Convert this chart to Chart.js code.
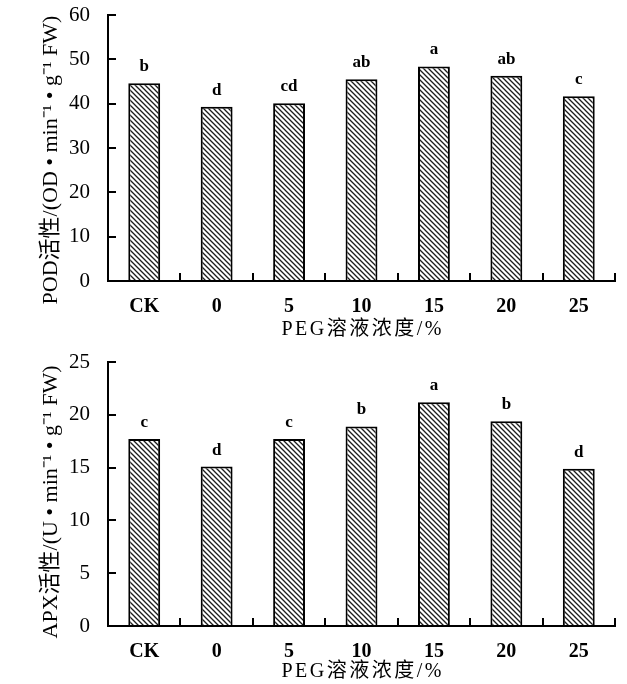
<!DOCTYPE html>
<html>
<head>
<meta charset="utf-8">
<script src="https://cdn.jsdelivr.net/npm/chart.js@4/dist/chart.umd.min.js"></script>
<style>
  html, body { margin: 0; padding: 0; background: #fff; }
  .panel { position: relative; width: 627px; height: 342px; }
</style>
</head>
<body>
<div class="panel"><canvas id="podChart"></canvas></div>
<div class="panel"><canvas id="apxChart"></canvas></div>
<script>
// PEG concentration groups
const categories = ['CK', '0', '5', '10', '15', '20', '25'];

// POD activity and significance letters
const podValues = [44.6, 39.3, 40.1, 45.5, 48.4, 46.3, 41.7];
const podLetters = ['b', 'd', 'cd', 'ab', 'a', 'ab', 'c'];
const podAxis = { max: 60, step: 10 };

// APX activity and significance letters
const apxValues = [17.7, 15.1, 17.7, 18.9, 21.2, 19.4, 14.9];
const apxLetters = ['c', 'd', 'c', 'b', 'a', 'b', 'd'];
const apxAxis = { max: 25, step: 5 };

const xTitle = 'PEG溶液浓度/%';
const podTitle = 'POD活性/(OD • min⁻¹ • g⁻¹ FW)';
const apxTitle = 'APX活性/(U • min⁻¹ • g⁻¹ FW)';

const SERIF = '"Liberation Serif", "Times New Roman", "Noto Sans CJK SC", serif';

// Diagonal hatch fill for the bars
function makeHatch() {
  const s = 5;
  const tile = document.createElement('canvas');
  tile.width = s; tile.height = s;
  const g = tile.getContext('2d');
  g.fillStyle = '#ffffff';
  g.fillRect(0, 0, s, s);
  g.strokeStyle = '#1c1c1c';
  g.lineWidth = 1.3;
  g.beginPath();
  g.moveTo(-1, -1); g.lineTo(s + 1, s + 1);
  g.moveTo(-1, s - 1); g.lineTo(1, s + 1);
  g.moveTo(s - 1, -1); g.lineTo(s + 1, 1);
  g.stroke();
  return document.createElement('canvas').getContext('2d').createPattern(tile, 'repeat');
}
const hatch = makeHatch();

// Letters written above each bar
const sigLetters = {
  id: 'sigLetters',
  afterDatasetsDraw(chart, args, opts) {
    const meta = chart.getDatasetMeta(0);
    const ctx = chart.ctx;
    ctx.save();
    ctx.font = 'bold 17px ' + SERIF;
    ctx.fillStyle = '#000';
    ctx.textAlign = 'center';
    ctx.textBaseline = 'alphabetic';
    meta.data.forEach((bar, i) => {
      ctx.fillText(opts.letters[i], bar.x, bar.y - 12);
    });
    ctx.restore();
  }
};

// Axis-title tweaks: character spacing on the x title, vertical offset on the y title
const titleTweaks = {
  id: 'titleTweaks',
  afterLayout(chart, args, opts) {
    const x = chart.scales.x, y = chart.scales.y;
    if (x._tweaked) return;
    const base = Object.getPrototypeOf(x).drawTitle;
    x.drawTitle = function () {
      const ctx = this.ctx;
      ctx.save();
      ctx.letterSpacing = opts.spacing + 'px';
      ctx.translate(opts.spacing / 2, 0);
      base.call(this);
      ctx.restore();
    };
    y.drawTitle = function () {
      const ctx = this.ctx;
      ctx.save();
      ctx.translate(0, opts.yShift);
      base.call(this);
      ctx.restore();
    };
    x._tweaked = true;
  }
};

function buildChart(id, values, letters, axis, yTitle, topPad, xHeight, yShift) {
  return new Chart(document.getElementById(id), {
    type: 'bar',
    data: {
      labels: categories,
      datasets: [{
        data: values,
        backgroundColor: hatch,
        borderColor: '#000',
        borderWidth: 2,
        borderSkipped: 'bottom',
        categoryPercentage: 1,
        barPercentage: 0.44
      }]
    },
    options: {
      responsive: true,
      maintainAspectRatio: false,
      devicePixelRatio: 1,
      animation: false,
      layout: { padding: { top: topPad, right: 12, bottom: 0, left: 0 } },
      plugins: {
        legend: { display: false },
        tooltip: { enabled: false },
        sigLetters: { letters: letters },
        titleTweaks: { spacing: 2.5, yShift: yShift }
      },
      scales: {
        x: {
          grid: {
            offset: true,
            drawOnChartArea: false,
            tickLength: -8,
            color: '#000',
            lineWidth: 2
          },
          border: { display: true, color: '#000', width: 2 },
          ticks: {
            color: '#000',
            padding: 22,
            font: { family: SERIF, size: 20, weight: 'bold' }
          },
          title: {
            display: true,
            text: xTitle,
            color: '#000',
            padding: { top: 0, bottom: 0.6 },
            font: { family: SERIF, size: 20, weight: 'normal' }
          },
          afterFit(scale) { scale.height = xHeight; }
        },
        y: {
          min: 0,
          max: axis.max,
          grid: {
            drawOnChartArea: false,
            tickLength: -8,
            color: '#000',
            lineWidth: 2
          },
          border: { display: true, color: '#000', width: 2 },
          ticks: {
            stepSize: axis.step,
            color: '#000',
            padding: 26,
            font: { family: SERIF, size: 21, weight: 'normal' }
          },
          title: {
            display: true,
            text: yTitle,
            color: '#000',
            padding: { top: 38, bottom: 0 },
            font: { family: SERIF, size: 22, weight: 'normal' }
          },
          afterFit(scale) {
            scale.width = 108;
            scale.paddingTop = 0;
            scale.paddingBottom = 0;
          }
        }
      }
    },
    plugins: [sigLetters, titleTweaks]
  });
}

buildChart('podChart', podValues, podLetters, podAxis, podTitle, 15, 61, 12);
buildChart('apxChart', apxValues, apxLetters, apxAxis, apxTitle, 20, 58, 8);
</script>
</body>
</html>
